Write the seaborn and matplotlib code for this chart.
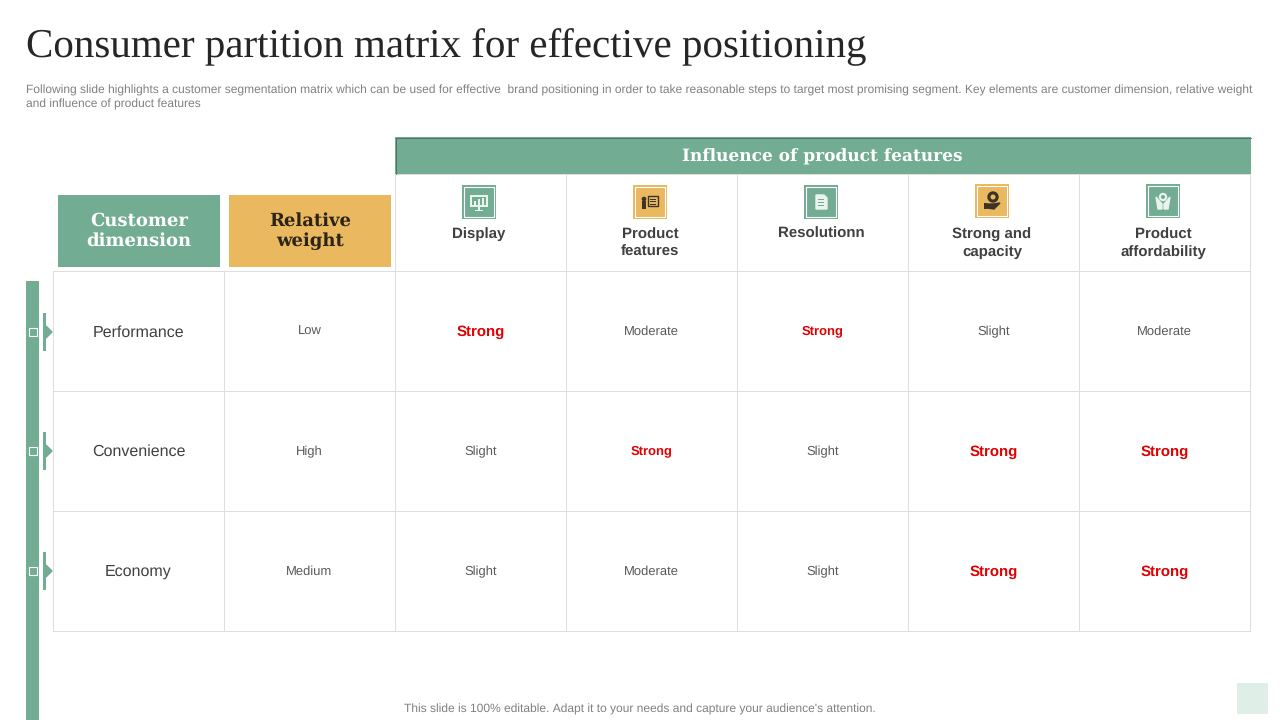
import numpy as np
import pandas as pd
import seaborn as sns
import matplotlib
matplotlib.use('Agg')
import matplotlib.pyplot as plt
from matplotlib.patches import Rectangle, Polygon, Circle

title = 'Consumer partition matrix for effective positioning'
subtitle = ['Following slide highlights a customer segmentation matrix which can be used for effective  brand positioning in order to take reasonable steps to target most promising segment. Key elements are customer dimension, relative weight',
            'and influence of product features']
footer = "This slide is 100% editable. Adapt it to your needs and capture your audience's attention."

dimensions = ['Performance', 'Convenience', 'Economy']
weights = ['Low', 'High', 'Medium']
features = ['Display', 'Product\nfeatures', 'Resolutionn', 'Strong and\ncapacity', 'Product\naffordability']
display = ['Strong', 'Slight', 'Slight']
product_features = ['Moderate', 'Strong', 'Moderate']
resolution = ['Strong', 'Slight', 'Slight']
capacity = ['Slight', 'Strong', 'Strong']
affordability = ['Moderate', 'Strong', 'Strong']

GREEN = '#72ac93'
AMBER = '#e9b85f'
GRID = '#dedede'
DARK = '#404040'
MID = '#595959'
RED = '#e00000'
SANS = 'Liberation Sans'
SERIF = 'DejaVu Serif'

sns.set_theme(style='white')
plt.rcParams['font.family'] = [SANS, 'DejaVu Sans']
plt.rcParams['text.hinting'] = 'no_hinting'
plt.rcParams['text.hinting_factor'] = 1

W, H = 1280, 720
fig = plt.figure(figsize=(12.8, 7.2), dpi=100)
bg = fig.add_axes([0, 0, 1, 1])
bg.set_xlim(0, W)
bg.set_ylim(H, 0)
bg.axis('off')
bg.set_zorder(5)


def px_axes(x0, y0, x1, y1):
    return fig.add_axes([x0 / W, 1 - y1 / H, (x1 - x0) / W, (y1 - y0) / H])


def box(x0, y0, x1, y1, color, **kw):
    bg.add_patch(Rectangle((x0, y0), x1 - x0, y1 - y0, facecolor=color, edgecolor='none', **kw))


# table body
table = pd.DataFrame({'dimension': dimensions, 'weight': weights, 'display': display,
                      'product_features': product_features, 'resolution': resolution,
                      'capacity': capacity, 'affordability': affordability})
blank = np.zeros(table.shape)
ax = px_axes(53, 271, 1250, 630.5)
sns.heatmap(blank, ax=ax, annot=table.values, fmt='', cbar=False, vmin=0, vmax=1,
            cmap=sns.color_palette(['white'], as_cmap=True), linewidths=0.72, linecolor=GRID,
            xticklabels=False, yticklabels=False, annot_kws={'color': DARK, 'fontsize': 8.8})
ax.collections[0].set_clip_on(False)
ax.patch.set_alpha(0)

# smaller bold reds in these two cells, as on the slide
small_strong = {(0, 4), (1, 3)}
for k, t in enumerate(ax.texts):
    r, c = divmod(k, table.shape[1])
    x0, y0 = t.get_position()
    if c == 0:
        t.set_color(DARK)
        t.set_fontsize(11.7)
        t.set_position((x0, y0 + 0.012))
    elif t.get_text() == 'Strong':
        t.set_color(RED)
        t.set_fontweight('bold')
        small = (r, c) in small_strong
        t.set_fontsize(9.2 if small else 11)
        t.set_position((x0, y0 + (0.004 if small else 0.012)))
    else:
        t.set_color(MID)
        t.set_fontsize(9)
        t.set_position((x0, y0 + 0.009))

# feature header cells
hx = px_axes(395, 174, 1250, 271)
sns.heatmap(np.zeros((1, len(features))), ax=hx, cbar=False, vmin=0, vmax=1,
            cmap=sns.color_palette(['white'], as_cmap=True), linewidths=0.72, linecolor=GRID,
            xticklabels=False, yticklabels=False)
hx.collections[0].set_clip_on(False)

# header bands
box(395, 137, 1251, 174, GREEN)
bg.plot([395.5, 395.5, 1251], [174, 137.5, 137.5], color='#4f6f60', lw=0.7)
bg.text(822, 157, 'Influence of product features', ha='center', va='center', color='white',
        family=SERIF, fontweight='bold', fontsize=12.6)
box(58, 195, 220, 267, GREEN)
bg.text(139, 231, 'Customer\ndimension', ha='center', va='center', color='white', family=SERIF,
        fontweight='bold', fontsize=13, linespacing=1.22)
box(229, 195, 391, 267, AMBER)
bg.text(310, 231, 'Relative\nweight', ha='center', va='center', color='#2b2417', family=SERIF,
        fontweight='bold', fontsize=13, linespacing=1.22)

# feature icons
icon_x = [479, 650, 821, 992, 1163]
icon_y = [202, 202, 202, 201, 201]
icon_col = [GREEN, AMBER, GREEN, AMBER, GREEN]
for cx, cy, col, name in zip(icon_x, icon_y, icon_col, features):
    box(cx - 17, cy - 17, cx + 17, cy + 17, col)
    bg.add_patch(Rectangle((cx - 15, cy - 15), 30, 30, fill=False, edgecolor='white', lw=0.8))
    bg.text(cx, 234 if '\n' not in name else 243.5, name, ha='center',
            va='center', color=DARK, fontweight='bold', fontsize=10.6, linespacing=1.3)

light = '#eaf3ee'
ink = '#3c3326'
# monitor
cx, cy = icon_x[0], icon_y[0]
box(cx - 9, cy - 7, cx + 9, cy + 5, light)
box(cx - 7, cy - 5, cx + 7, cy + 3, GREEN)
box(cx - 5, cy - 1, cx - 3, cy + 3, light)
box(cx - 1, cy - 3, cx + 1, cy + 3, light)
box(cx + 3, cy - 4, cx + 5, cy + 3, light)
box(cx - 1, cy + 5, cx + 1, cy + 8, light)
box(cx - 4, cy + 8, cx + 4, cy + 9, light)
# presenter with board
cx, cy = icon_x[1], icon_y[1]
bg.add_patch(Rectangle((cx - 2, cy - 6), 10, 10, fill=False, edgecolor=ink, lw=1))
for dy in (-3.5, -1, 1.5):
    box(cx, cy + dy, cx + 6, cy + dy + 1, ink)
bg.add_patch(Circle((cx - 6, cy - 3), 1.6, color=ink))
box(cx - 8, cy - 1, cx - 4, cy + 7, ink)
# document
cx, cy = icon_x[2], icon_y[2]
bg.add_patch(Polygon([(cx - 5, cy - 7), (cx + 3, cy - 7), (cx + 6, cy - 4), (cx + 6, cy + 7),
                      (cx - 5, cy + 7)], color=light))
for dy in (-3, 0, 3):
    box(cx - 3, cy + dy, cx + 3, cy + dy + 0.8, GREEN)
# hand with gear
cx, cy = icon_x[3], icon_y[3]
bg.add_patch(Circle((cx + 1, cy - 4), 5, color=ink))
bg.add_patch(Circle((cx + 1, cy - 4), 1.8, color=AMBER))
box(cx - 8, cy + 2, cx - 5, cy + 8, ink)
bg.add_patch(Polygon([(cx - 5, cy + 3), (cx + 1, cy + 3), (cx + 8, cy + 2), (cx + 2, cy + 8),
                      (cx - 5, cy + 7)], color=ink))
# hands holding coin
cx, cy = icon_x[4], icon_y[4]
bg.add_patch(Circle((cx, cy - 4), 3.5, color=light))
bg.add_patch(Circle((cx, cy - 4), 1.3, color=GREEN))
bg.add_patch(Polygon([(cx - 7, cy - 4), (cx - 1, cy + 3), (cx - 1, cy + 8), (cx - 5, cy + 8)], color=light))
bg.add_patch(Polygon([(cx + 7, cy - 4), (cx + 1, cy + 3), (cx + 1, cy + 8), (cx + 5, cy + 8)], color=light))

# left rail with row markers
box(26, 281, 39, 720, GREEN)
for y in [332, 451, 571]:
    box(43, y - 19, 46, y + 19, GREEN)
    bg.add_patch(Polygon([(46, y - 6), (52, y), (46, y + 6)], color=GREEN))
    bg.add_patch(Rectangle((29, y - 4), 8, 8, fill=False, edgecolor='white', lw=0.8))

# titles
bg.text(26, 47, title, ha='left', va='center', family='Liberation Serif', fontsize=29.5, color='#262626')
bg.text(26, 90.5, subtitle[0], ha='left', va='center', fontsize=8.55, color='#808080')
bg.text(26, 104.5, subtitle[1], ha='left', va='center', fontsize=8.55, color='#808080')
bg.text(640, 709, footer, ha='center', va='center', fontsize=8.75, color='#808080')
box(1237, 683, 1268, 714, '#e0eee8')

fig.savefig('out.png', dpi=100)
